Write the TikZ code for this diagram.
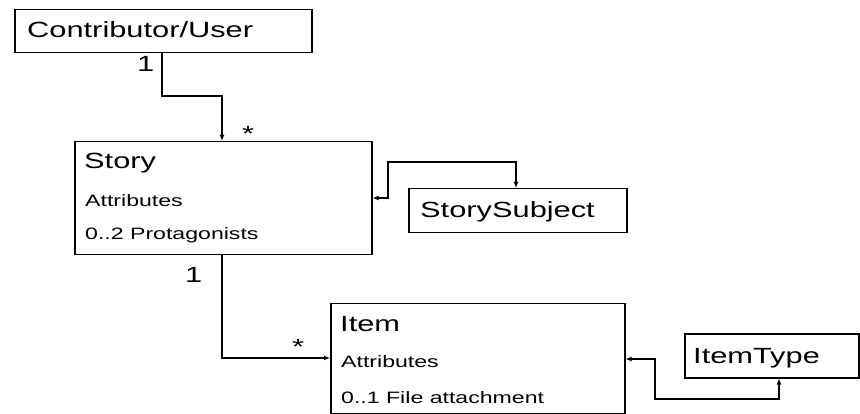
\documentclass[tikz,border=0pt]{standalone}
\usepackage{fontspec}
\usetikzlibrary{arrows.meta}
\newfontfamily\umlfont[FakeStretch=1.4]{Liberation Sans}
\newcommand{\bigtxt}{\umlfont\fontsize{22}{26}\selectfont}
\newcommand{\smalltxt}{\umlfont\fontsize{16.5}{20}\selectfont}
\begin{document}
\begin{tikzpicture}[x=1pt,y=-1pt,
  boxstyle/.style={draw=black,line width=1.5pt,rectangle,inner sep=0pt,anchor=north west,fill=white},
  titletxt/.style={inner sep=0pt,anchor=base west,font=\bigtxt},
  attrtxt/.style={inner sep=0pt,anchor=base west,font=\smalltxt},
  multtxt/.style={inner sep=0pt,anchor=base,font=\bigtxt},
  conn/.style={draw=black,line width=1.5pt,-{Latex[length=6pt,width=5pt]}},
  connboth/.style={draw=black,line width=1.5pt,{Latex[length=6pt,width=5pt]}-{Latex[length=6pt,width=5pt]}}
]
\useasboundingbox (0,0) rectangle (860,414);
% boxes
\node[boxstyle,minimum width=297pt,minimum height=43pt] (cu) at (14,9) {};
\node[boxstyle,minimum width=297pt,minimum height=113pt] (story) at (74,141) {};
\node[boxstyle,minimum width=218pt,minimum height=44pt] (ss) at (408,188) {};
\node[boxstyle,minimum width=294pt,minimum height=110pt] (item) at (330,303) {};
\node[boxstyle,minimum width=174pt,minimum height=44pt] (it) at (684,333) {};
% texts
\node[titletxt] (cut) at (27,38) {Contributor/User};
\node[titletxt] (st) at (84,169) {Story};
\node[attrtxt] (sa) at (85,207) {Attributes};
\node[attrtxt] (sp) at (85,240) {0..2 Protagonists};
\node[titletxt] (sst) at (420,218) {StorySubject};
\node[titletxt] (itt) at (340,331) {Item};
\node[attrtxt] (ia) at (341,367) {Attributes};
\node[attrtxt] (ifa) at (341,403) {0..1 File attachment};
\node[titletxt] (itypet) at (693,363) {ItemType};
% bend points
\coordinate (b1) at (162,96);
\coordinate (b2) at (222,96);
\coordinate (b3) at (222,358);
\coordinate (b4) at (388,198);
\coordinate (b5) at (388,162);
\coordinate (b6) at (516,162);
\coordinate (b7) at (655,359);
\coordinate (b8) at (655,399);
\coordinate (b9) at (779,399);
% connectors
\draw[conn] (cu.south -| b1) -- (b1) -- (b2) -- (story.north -| b2);
\draw[conn] (story.south -| b3) -- (b3) -- (item.west |- b3);
\draw[connboth] (story.east |- b4) -- (b4) -- (b5) -- (b6) -- (ss.north -| b6);
\draw[connboth] (item.east |- b7) -- (b7) -- (b8) -- (b9) -- (it.south -| b9);
% multiplicities
\node[titletxt] (m1) at (137,72) {1};
\node[multtxt] (m2) at (248,142) {*};
\node[titletxt] (m3) at (185,283) {1};
\node[multtxt] (m4) at (298,354) {*};
\end{tikzpicture}
\end{document}
